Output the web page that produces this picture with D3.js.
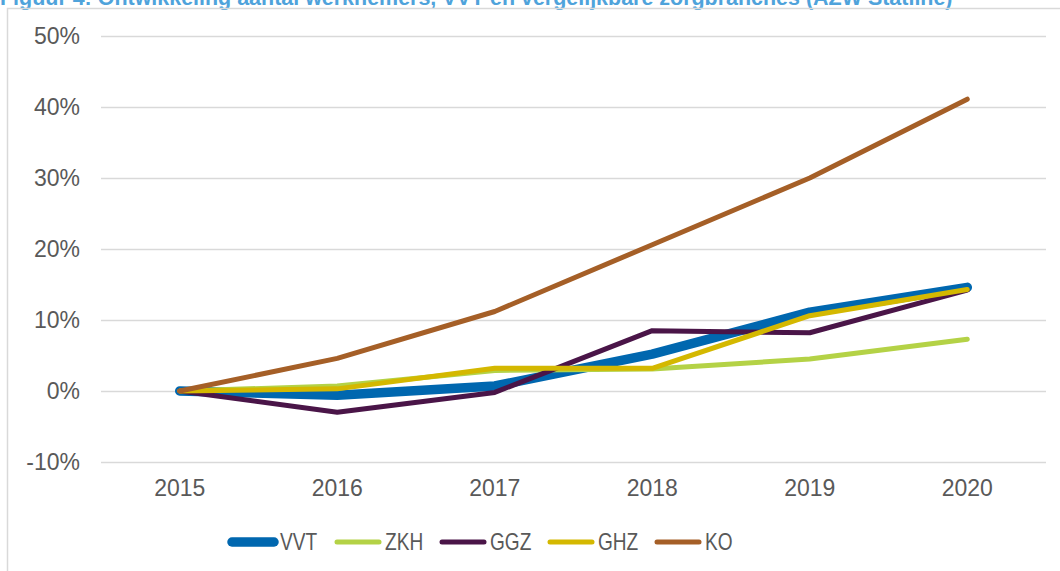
<!DOCTYPE html>
<html>
<head>
<meta charset="utf-8">
<script src="https://cdn.jsdelivr.net/npm/d3@7"></script>
<style>
  html, body { margin: 0; padding: 0; background: #fff; overflow: hidden; }
  svg { display: block; }
</style>
</head>
<body>
<svg id="chart" width="1060" height="571"></svg>
<script>
const years = ["2015", "2016", "2017", "2018", "2019", "2020"];
const vvt = [0, -0.6, 0.7, 5.2, 11.1, 14.6];
const zkh = [0, 0.7, 2.9, 3.1, 4.5, 7.3];
const ggz = [0, -3.0, -0.2, 8.5, 8.2, 14.2];
const ghz = [0, 0.3, 3.2, 3.2, 10.6, 14.3];
const ko  = [0, 4.6, 11.2, 20.6, 30.0, 41.1];
const yTicks = [-10, 0, 10, 20, 30, 40, 50];
const seriesNames = ["VVT", "ZKH", "GGZ", "GHZ", "KO"];
const seriesValues = [vvt, zkh, ggz, ghz, ko];
const title = "Figuur 4: Ontwikkeling aantal werknemers, VVT en vergelijkbare zorgbranches (AZW Statline)";

const colors = { VVT: "#0067AF", ZKH: "#B4D246", GGZ: "#4A1548", GHZ: "#D4B800", KO: "#A55F27" };
const widths = { VVT: 9.5, ZKH: 5, GGZ: 5, GHZ: 5, KO: 5 };

const svg = d3.select("#chart");
const font = "'Liberation Sans', Arial, sans-serif";
const textColor = "#595959";

// title (partially clipped at top, as in the source)
const t = svg.append("text")
  .attr("x", 0).attr("y", 5)
  .attr("font-family", font).attr("font-weight", "bold").attr("font-size", 17)
  .attr("fill", "#4FA3DB")
  .text(title);
const tw = t.node().getComputedTextLength();
t.attr("font-size", 17 * 953 / tw);

// chart border
svg.append("rect")
  .attr("x", 7.5).attr("y", 8.5).attr("width", 1200).attr("height", 700)
  .attr("fill", "none").attr("stroke", "#D9D9D9").attr("stroke-width", 1.5);

const x = d3.scaleBand().domain(years).range([101, 1046]);
const y = d3.scaleLinear().domain([-10, 50]).range([462, 36]);
const cx = d => x(d) + x.bandwidth() / 2;

// gridlines + y labels
const yAxis = d3.axisLeft(y).tickValues(yTicks).tickSize(-(1046 - 101)).tickPadding(21)
  .tickFormat(d => d + "%");
const gy = svg.append("g").attr("transform", "translate(101,0)").call(yAxis);
gy.select(".domain").remove();
gy.selectAll(".tick line").attr("stroke", "#D9D9D9").attr("stroke-width", 1.5);
gy.selectAll(".tick text").attr("font-family", font).attr("font-size", 23).attr("fill", textColor);

// x labels
const xAxis = d3.axisBottom(x).tickSize(0).tickPadding(0);
const gx = svg.append("g").attr("transform", "translate(0,480)").call(xAxis);
gx.select(".domain").remove();
gx.selectAll(".tick text").attr("font-family", font).attr("font-size", 23).attr("fill", textColor)
  .attr("dy", "0.71em");

// lines
const line = d3.line().x((d, i) => cx(years[i])).y(d => y(d));
seriesNames.forEach((name, k) => {
  svg.append("path")
    .datum(seriesValues[k])
    .attr("d", line)
    .attr("fill", "none")
    .attr("stroke", colors[name])
    .attr("stroke-width", widths[name])
    .attr("stroke-linecap", "round")
    .attr("stroke-linejoin", "round");
});

// legend
const legendX = [230, 335, 440, 548, 655];
const lg = svg.append("g");
seriesNames.forEach((name, k) => {
  const lx = legendX[k];
  lg.append("line")
    .attr("x1", lx + 2).attr("x2", lx + 44)
    .attr("y1", 542).attr("y2", 542)
    .attr("stroke", colors[name]).attr("stroke-width", widths[name])
    .attr("stroke-linecap", "round");
  lg.append("text")
    .attr("transform", `translate(${lx + 50},542) scale(0.83,1)`)
    .attr("dy", "0.35em")
    .attr("font-family", font).attr("font-size", 23).attr("fill", textColor)
    .text(name);
});
</script>
</body>
</html>
